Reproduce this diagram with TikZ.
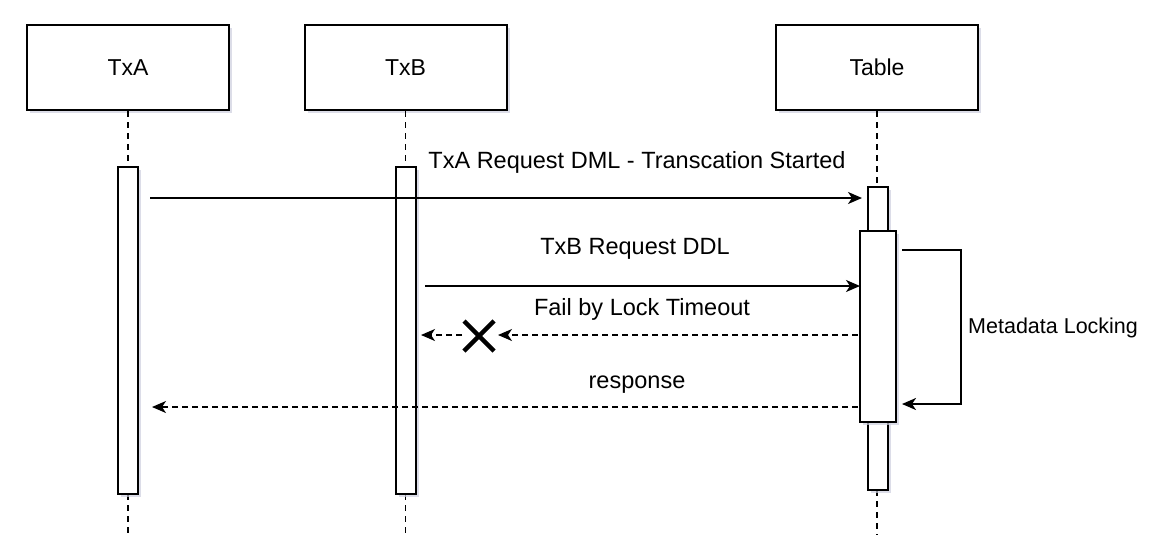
\documentclass[tikz,border=0pt]{standalone}
\usepackage{fontspec}
\setmainfont{Liberation Sans}
\usetikzlibrary{arrows.meta,shadows}
\definecolor{shadowc}{RGB}{205,207,222}
\begin{document}
\begin{tikzpicture}[x=1pt,y=-1pt,
  shad/.style={drop shadow={shadow xshift=3pt,shadow yshift=-3pt,fill=shadowc,opacity=0.7}},
  head/.style={draw,line width=2pt,fill=white,shad,minimum width=202pt,minimum height=85pt,inner sep=0pt,font=\fontsize{23}{26}\selectfont},
  act/.style={draw,line width=2pt,fill=white,shad,minimum width=20pt,inner sep=0pt},
  life/.style={line width=1.6pt,dash pattern=on 6pt off 5pt},
  msg/.style={line width=2pt,-{Stealth[length=14pt,width=12pt,inset=4pt]}},
  ret/.style={line width=1.6pt,dash pattern=on 6pt off 4pt,-{Stealth[length=14pt,width=12pt,inset=4pt]}},
  lbl/.style={font=\fontsize{23.5}{26}\selectfont,inner sep=1pt}]
\useasboundingbox (0,0) rectangle (1166,552);
% headers
\node[head] (A) at (128,67.5) {TxA};
\node[head] (B) at (405.5,67.5) {TxB};
\node[head] (T) at (877,67.5) {Table};
% lifelines
\coordinate (Aend) at (128,535);
\coordinate (Bend) at (405.5,535);
\coordinate (Tend) at (877,535);
\draw[life] (A.south) -- (128,167);
\draw[life] (B.south) -- (405.5,167);
\draw[life] (T.south) -- (877,187);
\draw[life] (128,494) -- (Aend);
\draw[life] (405.5,494) -- (Bend);
\draw[life] (877,490) -- (Tend);
% activations
\node[act,minimum height=327pt] (aA) at (128,330.5) {};
\node[act,minimum height=327pt] (aB) at (405.5,330.5) {};
\node[act,minimum height=303pt] (aT) at (878,338.5) {};
\node[act,minimum width=36pt,minimum height=191pt] (aT2) at (878,326.5) {};
% message 1
\coordinate (m1s) at (150,198);
\coordinate (m1e) at (862,198);
\draw[msg] (m1s) -- (m1e);
\node[lbl] (l1) at (637,162) {TxA Request DML - Transcation Started};
% message 2
\coordinate (m2s) at (425,286);
\coordinate (m2e) at (860,286);
\draw[msg] (m2s) -- (m2e);
\node[lbl] (l2) at (635,249) {TxB Request DDL};
% failed return
\coordinate (m3s) at (858,335);
\coordinate (m3x1) at (498,335);
\coordinate (m3x2) at (462,335);
\coordinate (m3e) at (421,335);
\coordinate (X) at (479,336);
\draw[ret] (m3s) -- (m3x1);
\draw[ret] (m3x2) -- (m3e);
\draw[line width=4.5pt] ([shift={(-15,-15)}]X) -- ([shift={(15,15)}]X);
\draw[line width=4.5pt] ([shift={(-15,15)}]X) -- ([shift={(15,-15)}]X);
\node[lbl] (l3) at (642,309) {Fail by Lock Timeout};
% self loop
\coordinate (s1) at (902,250);
\coordinate (s2) at (961,250);
\coordinate (s3) at (961,404);
\coordinate (s4) at (902,404);
\draw[line width=2pt,-{Stealth[length=14pt,width=12pt,inset=4pt]}] (s1) -- (s2) -- (s3) -- (s4);
\node[fill=white,inner sep=2pt,font=\fontsize{21.5}{24}\selectfont,anchor=west] (ml) at (966,328) {Metadata Locking};
% response
\coordinate (m4s) at (858,407);
\coordinate (m4e) at (152,407);
\draw[ret] (m4s) -- (m4e);
\node[lbl] (l4) at (637,385) {response};
\end{tikzpicture}
\end{document}
